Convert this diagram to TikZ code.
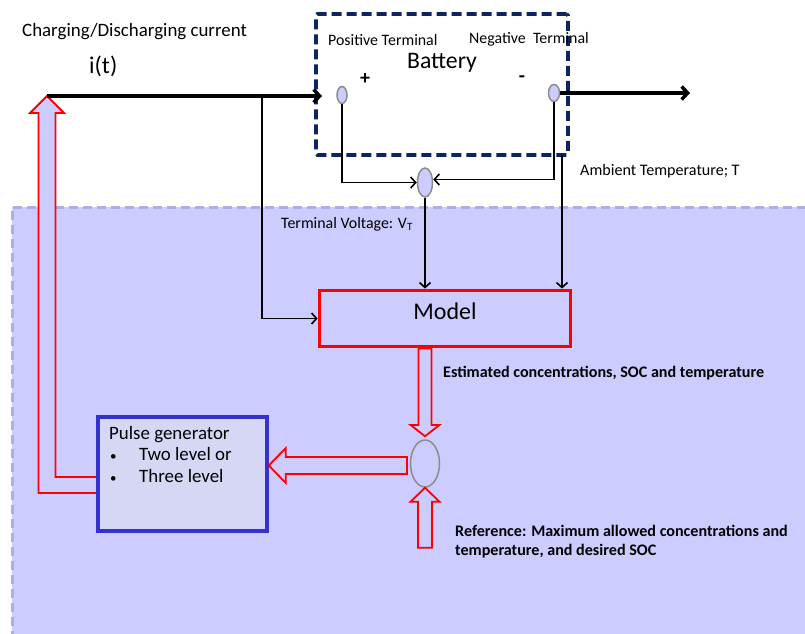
\documentclass[tikz,border=0pt]{standalone}
\usepackage{fontspec}
\setmainfont{Carlito}
\usetikzlibrary{arrows.meta,shapes.geometric,calc}
\definecolor{bgfill}{HTML}{CCCCFF}
\definecolor{bgline}{HTML}{ADADE8}
\definecolor{navy}{HTML}{0C2461}
\definecolor{pulsefill}{HTML}{D6D6F5}
\definecolor{pulseline}{HTML}{3333CC}
\definecolor{termgray}{HTML}{8C8C8C}
\newcommand{\fs}[1]{\fontsize{#1}{#1}\selectfont}
\begin{document}
\begin{tikzpicture}[x=1pt,y=-1pt,
  lbl/.style={inner sep=0pt, anchor=west, text=black},
  wire/.style={line width=1.6pt, -{Straight Barb[length=5pt,width=11pt]}},
  bus/.style={line width=3.5pt, -{Straight Barb[length=6pt,width=13pt]}},
  term/.style={ellipse, draw=termgray, line width=1.5pt, fill=bgfill, inner sep=0pt},
  hollow/.style={draw=red, line width=1.8pt, fill=bgfill, line join=miter},
]
\useasboundingbox (0,0) rectangle (805,633);
\fill[white] (0,0) rectangle (805,633);
% shaded estimator region
\fill[bgfill] (12,207) rectangle (810,640);
\draw[bgline, line width=3pt, dash pattern=on 9pt off 5pt] (12,640) -- (12,207) -- (810,207);

% battery
\node[draw=navy, line width=3.6pt, dash pattern=on 10pt off 5pt, rounded corners=1.5pt,
      minimum width=252pt, minimum height=141pt, inner sep=0pt] (battery) at (442,84.5) {};
\node[term, minimum width=10pt, minimum height=17pt] (pos) at (342,95) {};
\node[term, minimum width=11pt, minimum height=17pt] (neg) at (554,93) {};
\node[term, minimum width=15pt, minimum height=29pt] (junc) at (425,182.5) {};

% model
\node[draw=red, line width=3.8pt, fill=bgfill, minimum width=251pt, minimum height=56pt, inner sep=0pt] (model) at (445,318.5) {};
\node[inner sep=0pt, font=\fs{24}] (modeltxt) at (445,311) {Model};

% comparator
\node[ellipse, draw=termgray, line width=1.5pt, minimum width=29pt, minimum height=47pt, inner sep=0pt] (cmp) at (425,463.5) {};

% coordinates
\coordinate (src) at (47,96);
\coordinate (bin) at (322,96);
\coordinate (tap) at (262,96);
\coordinate (out) at (690,93);
\coordinate (amb) at (562,155);
\coordinate (dtop) at (junc |- model.south);
\coordinate (ltail) at (407,465.5);

% feedback L-shaped hollow arrow
\draw[hollow] (src) -- ($(src)+(17,17)$) -- ($(src)+(8.5,17)$) -- ($(src)+(8.5,381)$)
  -- (98,477) -- (98,493) -- ($(src)+(-8.5,397)$) -- ($(src)+(-8.5,17)$) -- ($(src)+(-17,17)$) -- cycle;

% pulse generator
\node[draw=pulseline, line width=3.6pt, fill=pulsefill, minimum width=169pt, minimum height=114pt, inner sep=0pt] (pulse) at (182.5,474) {};
\node[inner sep=0pt, anchor=north west, align=left, font=\fontsize{18.9}{21.5}\selectfont] (pulsetxt) at (109,426)
  {Pulse generator\\\hspace*{1pt}\makebox[29pt][l]{\fs{13}\textbullet}Two level or\\\hspace*{1pt}\makebox[29pt][l]{\fs{13}\textbullet}Three level};
\coordinate (ltip) at (pulse.east |- ltail);

% connectors
\draw[bus] (src) -- (bin);
\draw[bus] (neg.east) -- (out);
\draw[wire] (tap) |- (model.west);
\draw[wire] (pos.south) |- (junc.west);
\draw[wire] (neg.south) |- ([yshift=3pt]junc.east);
\draw[wire] (junc.south) -- (junc.south |- model.north);
\draw[wire] (amb) -- (amb |- model.north);

% hollow arrows
\draw[hollow] ($(dtop)+(-6.5,0)$) -- ($(dtop)+(-6.5,76.5)$) -- ($(dtop)+(-14.5,76.5)$) -- ([yshift=3pt]cmp.north)
  -- ($(dtop)+(14.5,76.5)$) -- ($(dtop)+(6.5,76.5)$) -- ($(dtop)+(6.5,0)$) -- cycle;
\draw[hollow] ($(ltail)+(0,-8.5)$) -- ($(ltip)+(17,-8.5)$) -- ($(ltip)+(17,-17.5)$) -- (ltip)
  -- ($(ltip)+(17,17.5)$) -- ($(ltip)+(17,8.5)$) -- ($(ltail)+(0,8.5)$) -- cycle;
\draw[hollow] (cmp.south) -- ($(cmp.south)+(14.5,14)$) -- ($(cmp.south)+(7,14)$) -- ($(cmp.south)+(7,60)$)
  -- ($(cmp.south)+(-7,60)$) -- ($(cmp.south)+(-7,14)$) -- ($(cmp.south)+(-14.5,14)$) -- cycle;

% labels
\node[lbl, font=\fs{18.9}] (chg) at (22,32) {Charging/Discharging current};
\node[lbl, font=\fs{24}] (it) at (89,66) {i(t)};
\node[lbl, font=\fs{15.9}] (postxt) at (328,40) {Positive Terminal};
\node[lbl, font=\fs{15.9}] (negtxt) at (469,39) {Negative\ \ Terminal};
\node[inner sep=0pt, font=\fs{23.7}] (battxt) at (442,63) {Battery};
\node[inner sep=0pt, font=\bfseries\fs{20}] (plus) at (365,79) {+};
\node[inner sep=0pt, font=\bfseries\fs{20}] (minus) at (522,79) {-};
\node[lbl, font=\fs{15.9}] (vt) at (281,224) {Terminal Voltage: V\textsubscript{T}};
\node[lbl, font=\fs{16.1}] (ambtxt) at (580,171) {Ambient Temperature; T};
\node[lbl, font=\bfseries\fs{16.1}] (esttxt) at (443,373) {Estimated concentrations, SOC and temperature};
\node[lbl, anchor=north west, align=left, font=\bfseries\fontsize{16.1}{19}\selectfont] (reftxt) at (455,525)
  {Reference: Maximum allowed concentrations and\\temperature, and desired SOC};
\end{tikzpicture}
\end{document}
